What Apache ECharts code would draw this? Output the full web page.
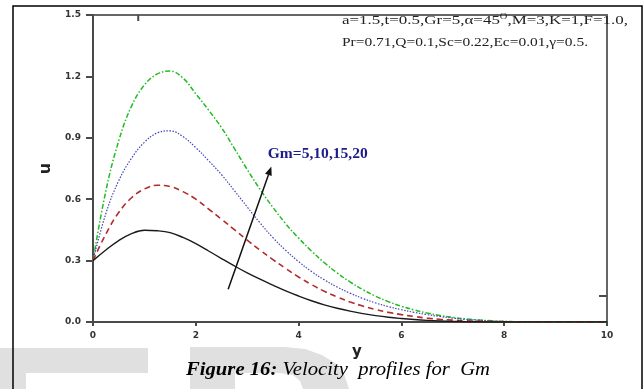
<!DOCTYPE html>
<html><head><meta charset="utf-8">
<script src="https://cdn.jsdelivr.net/npm/echarts@6/dist/echarts.min.js"></script>
<style>html,body{margin:0;padding:0;background:#fff}#c{width:644px;height:389px}</style>
</head><body><div id="c"></div>
<script>
const yPos = [0,0.25,0.5,0.75,1,1.25,1.5,1.75,2,2.25,2.5,2.75,3,3.25,3.5,3.75,4,4.25,4.5,4.75,5,5.25,5.5,5.75,6,6.25,6.5,6.75,7,7.25,7.5,7.75,8,8.25,8.5,9,9.5,10];
const gm5  = [0.300,0.352,0.398,0.432,0.448,0.446,0.437,0.413,0.383,0.347,0.310,0.274,0.240,0.209,0.180,0.152,0.127,0.104,0.084,0.067,0.053,0.041,0.031,0.023,0.017,0.012,0.008,0.005,0.003,0.002,0.001,0,0,0,0,0,0,0];
const gm10 = [0.300,0.430,0.535,0.607,0.650,0.668,0.662,0.637,0.600,0.552,0.502,0.451,0.400,0.351,0.305,0.261,0.220,0.183,0.150,0.122,0.098,0.078,0.061,0.047,0.036,0.027,0.019,0.013,0.009,0.006,0.004,0.002,0.001,0,0,0,0,0];
const gm15 = [0.300,0.530,0.690,0.800,0.878,0.924,0.934,0.906,0.852,0.788,0.720,0.642,0.562,0.484,0.412,0.350,0.295,0.247,0.206,0.171,0.141,0.115,0.093,0.075,0.060,0.047,0.036,0.027,0.019,0.013,0.009,0.005,0.003,0.001,0,0,0,0];
const gm20 = [0.300,0.640,0.885,1.055,1.158,1.212,1.226,1.192,1.115,1.035,0.950,0.848,0.745,0.648,0.560,0.480,0.410,0.347,0.290,0.240,0.196,0.158,0.126,0.099,0.077,0.059,0.044,0.032,0.022,0.015,0.010,0.006,0.003,0.001,0,0,0,0];
const xTicks = [0,2,4,6,8,10];
const yTicks = [0.0,0.3,0.6,0.9,1.2,1.5];

const pair = a => yPos.map((x,i)=>[x,a[i]]);
const chart = echarts.init(document.getElementById('c'), null, {renderer:'canvas'});
const axisCol = '#4a4a4a';
const lbl = {fontFamily:'DejaVu Sans', fontWeight:'bold', fontSize:9, color:'#333'};
chart.setOption({
  animation:false,
  grid:{left:93,right:37,top:15,bottom:67,show:true,borderColor:'#666',borderWidth:2,backgroundColor:'transparent'},
  xAxis:{type:'value',min:xTicks[0],max:xTicks[xTicks.length-1],interval:2,
    name:'y',nameLocation:'middle',nameGap:14,
    nameTextStyle:{fontFamily:'DejaVu Sans',fontWeight:'bold',fontSize:15,color:'#222',padding:[0,0,0,14]},
    axisLine:{lineStyle:{color:axisCol,width:2}},
    axisTick:{length:4,lineStyle:{color:axisCol,width:2}},
    axisLabel:Object.assign({margin:9},lbl),
    splitLine:{show:false}},
  yAxis:{type:'value',min:yTicks[0],max:yTicks[yTicks.length-1],interval:0.3,
    name:'u',nameLocation:'middle',nameGap:34,nameRotate:90,
    nameTextStyle:{fontFamily:'DejaVu Sans',fontWeight:'bold',fontSize:16,color:'#222'},
    axisLine:{lineStyle:{color:axisCol,width:2}},
    axisTick:{length:7,lineStyle:{color:axisCol,width:2}},
    axisLabel:Object.assign({margin:12,formatter:v=>v.toFixed(1)},lbl),
    splitLine:{show:false}},
  series:[
    {type:'line',data:pair(gm5),smooth:0.4,showSymbol:false,lineStyle:{color:'#1a1a1a',width:1.4,type:'solid'},z:5},
    {type:'line',data:pair(gm10),smooth:0.4,showSymbol:false,lineStyle:{color:'#b22a2a',width:1.6,type:[6,4]},z:4},
    {type:'line',data:pair(gm15),smooth:0.4,showSymbol:false,lineStyle:{color:'#4444b8',width:1.2,type:[1.5,1.5]},z:3},
    {type:'line',data:pair(gm20),smooth:0.4,showSymbol:false,lineStyle:{color:'#22bb22',width:1.5,type:[5,2,1.5,2]},z:2}
  ]
});

const mctx = document.createElement('canvas').getContext('2d');
const mw = (font, s) => { mctx.font = font; return mctx.measureText(s).width; };

const P = (x,y)=>chart.convertToPixel({gridIndex:0},[x,y]);
const a0 = P(2.63,0.16), a1 = P(3.47,0.76);
const ang = Math.atan2(a1[1]-a0[1], a1[0]-a0[0]);
const hl = 9, hw = 3.5;
const tip = a1, base=[a1[0]-hl*Math.cos(ang), a1[1]-hl*Math.sin(ang)];
const left=[base[0]+hw*Math.sin(ang), base[1]-hw*Math.cos(ang)];
const right=[base[0]-hw*Math.sin(ang), base[1]+hw*Math.cos(ang)];
const tTop = P(0.88,1.5), tRight = P(10,0.127);
const gl = P(3.4,0.82);

const pFont = '13px "Liberation Serif"';
const l1a = 'a=1.5,t=0.5,Gr=5,α=45', l1b = ',M=3,K=1,F=1.0,';
const l1w = mw(pFont,l1a)+mw('8px "Liberation Serif"','O')+mw(pFont,l1b);
const l1s = 286/l1w;
const l2 = 'Pr=0.71,Q=0.1,Sc=0.22,Ec=0.01,γ=0.5.';
const l2s = 246/mw(pFont,l2);
const gFont = 'bold 14px "Liberation Serif"';
const gTxt = 'Gm=5,10,15,20';
const gS = 100/mw(gFont,gTxt);
const cb = 'bold italic 19px "Liberation Serif"', ci = 'italic 19px "Liberation Serif"';
const cS = 304/(mw(cb,'Figure 16:')+mw(ci,' Velocity  profiles for  Gm'));

const bowl = [[190,347],[285,347],[305,349],[322,355],[335,363],[344,374],[349,389],[303,389],[300,381],[293,375],[280,373],[235,373],[235,389],[190,389]];

chart.setOption({graphic:[
  {type:'rect',shape:{x:0,y:348,width:148,height:25},style:{fill:'#e0e0e0'},z:-10},
  {type:'rect',shape:{x:0,y:373,width:26,height:16},style:{fill:'#e0e0e0'},z:-10},
  {type:'polygon',shape:{points:bowl},style:{fill:'#e0e0e0'},z:-10},
  {type:'polyline',shape:{points:[[13,389],[13,6],[642,6],[642,389]]},style:{stroke:'#000',lineWidth:1.5,fill:null},z:50},
  {type:'line',shape:{x1:tTop[0],y1:tTop[1],x2:tTop[0],y2:tTop[1]+6},style:{stroke:axisCol,lineWidth:2},z:20},
  {type:'line',shape:{x1:tRight[0],y1:tRight[1],x2:tRight[0]-8,y2:tRight[1]},style:{stroke:axisCol,lineWidth:2},z:20},
  {type:'line',shape:{x1:a0[0],y1:a0[1],x2:base[0],y2:base[1]},style:{stroke:'#111',lineWidth:1.5},z:20},
  {type:'polygon',shape:{points:[tip,left,right]},style:{fill:'#111'},z:20},
  {type:'text',x:gl[0],y:gl[1],scaleX:gS,style:{text:gTxt,font:gFont,fill:'#1c1c8a',textAlign:'left',textVerticalAlign:'middle'},z:20},
  {type:'text',x:342,y:21,scaleX:l1s,style:{rich:{n:{fontFamily:'Liberation Serif',fontSize:13,fill:'#222'},s:{fontFamily:'Liberation Serif',fontSize:8,fill:'#222',verticalAlign:'top',padding:[0,0,8,0]}},
     text:'{n|'+l1a+'}{s|O}{n|'+l1b+'}',textVerticalAlign:'middle'},z:20},
  {type:'text',x:342,y:43,scaleX:l2s,style:{text:l2,font:pFont,fill:'#222',textVerticalAlign:'middle'},z:20},
  {type:'text',x:338,y:370,scaleX:cS,style:{rich:{b:{fontFamily:'Liberation Serif',fontSize:19,fontWeight:'bold',fontStyle:'italic',fill:'#000'},i:{fontFamily:'Liberation Serif',fontSize:19,fontStyle:'italic',fill:'#000'}},
     text:'{b|Figure 16:}{i| Velocity  profiles for  Gm}',textAlign:'center',textVerticalAlign:'middle'},z:20}
]});
</script></body></html>
